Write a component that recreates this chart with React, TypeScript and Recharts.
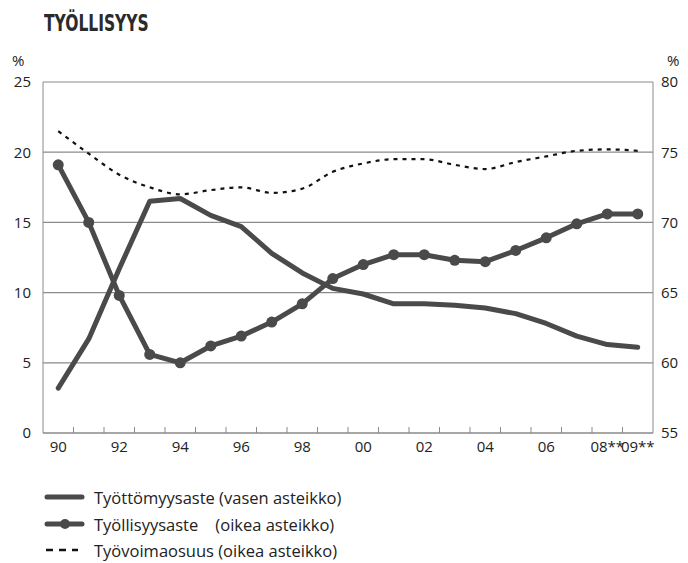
import React from 'react';
import { LineChart, Line, XAxis, YAxis, CartesianGrid } from 'recharts';

const years = ['90', '91', '92', '93', '94', '95', '96', '97', '98', '99', '00', '01', '02', '03', '04', '05', '06', '07', '08', '09'];
const yearLabels = ['90', '', '92', '', '94', '', '96', '', '98', '', '00', '', '02', '', '04', '', '06', '', '08**', '09**'];

// vasen asteikko
const tyottomyysaste = [3.2, 6.7, 11.7, 16.5, 16.7, 15.5, 14.7, 12.8, 11.4, 10.3, 9.9, 9.2, 9.2, 9.1, 8.9, 8.5, 7.8, 6.9, 6.3, 6.1];
// oikea asteikko
const tyollisyysaste = [74.1, 70.0, 64.8, 60.6, 60.0, 61.2, 61.9, 62.9, 64.2, 66.0, 67.0, 67.7, 67.7, 67.3, 67.2, 68.0, 68.9, 69.9, 70.6, 70.6];
const tyovoimaosuus = [76.5, 74.9, 73.4, 72.5, 72.0, 72.3, 72.5, 72.1, 72.4, 73.6, 74.2, 74.5, 74.5, 74.1, 73.8, 74.3, 74.7, 75.1, 75.2, 75.1];

const leftTicks = [0, 5, 10, 15, 20, 25];
const rightTicks = [55, 60, 65, 70, 75, 80];
const boundaryTicks = years.slice(1).map((_, i) => i + 0.5);
const labelTicks = [0, 2, 4, 6, 8, 10, 12, 14, 16, 18, 19];

const data = years.map((y, i) => ({
  i,
  year: y,
  tyottomyys: tyottomyysaste[i],
  tyollisyys: tyollisyysaste[i],
  tyovoima: tyovoimaosuus[i],
}));

const FONT = "'Open Sans', 'Noto Sans', sans-serif";
const DARK = '#4a4a4a';
const GRID = '#8a8a8a';
const tickStyle = { fill: '#222', fontSize: 15, fontFamily: FONT };

function LegendRow({ kind, label, top }: { kind: string; label: string; top: number }) {
  return (
    <div style={{ position: 'absolute', left: 44, top, height: 20, display: 'flex', alignItems: 'center' }}>
      <svg width={48} height={14}>
        {kind === 'line' && <line x1={3} y1={7} x2={38} y2={7} stroke={DARK} strokeWidth={5} strokeLinecap="round" />}
        {kind === 'dot' && (
          <g>
            <line x1={3} y1={7} x2={38} y2={7} stroke={DARK} strokeWidth={5} strokeLinecap="round" />
            <circle cx={21} cy={7} r={5} fill={DARK} />
          </g>
        )}
        {kind === 'dash' && <line x1={2} y1={7} x2={34} y2={7} stroke="#111" strokeWidth={2.5} strokeDasharray="7 6" />}
      </svg>
      <span style={{ fontFamily: FONT, fontSize: 16.5, color: '#222', whiteSpace: 'pre', marginLeft: 2 }}>{label}</span>
    </div>
  );
}

export default function App() {
  return (
    <div style={{ position: 'absolute', left: 0, top: 0, width: 688, height: 563, background: '#fff' }}>
      <div
        style={{
          position: 'absolute',
          left: 44,
          top: 10,
          fontFamily: "'DejaVu Sans Condensed', 'Liberation Sans Narrow', sans-serif",
          fontWeight: 'bold',
          fontSize: 23,
          lineHeight: 'normal',
          color: '#2a2a2a',
          transform: 'scaleX(0.75)',
          transformOrigin: 'left top',
          whiteSpace: 'nowrap',
        }}
      >
        TYÖLLISYYS
      </div>
      <div style={{ position: 'absolute', left: 12, top: 50, fontFamily: FONT, fontSize: 15, color: '#222' }}>%</div>
      <div style={{ position: 'absolute', left: 667, top: 50, fontFamily: FONT, fontSize: 15, color: '#222' }}>%</div>

      <LineChart width={688} height={470} data={data} margin={{ top: 82, right: 0, left: 13, bottom: 7 }}>
        <CartesianGrid xAxisId="m" yAxisId="left" vertical={false} stroke={GRID} strokeWidth={1.2} />
        <XAxis
          xAxisId="m"
          type="number"
          dataKey="i"
          domain={[-0.5, 19.5]}
          ticks={boundaryTicks}
          tickFormatter={() => ''}
          mirror
          tickSize={6}
          height={1}
          stroke={GRID}
          interval={0}
        />
        <XAxis
          xAxisId="l"
          type="number"
          dataKey="i"
          domain={[-0.5, 19.5]}
          ticks={labelTicks}
          tickFormatter={(v: number) => yearLabels[v]}
          axisLine={false}
          tickLine={false}
          tickSize={0}
          tickMargin={8}
          height={30}
          interval={0}
          tick={tickStyle}
        />
        <YAxis
          yAxisId="left"
          domain={[0, 25]}
          ticks={leftTicks}
          width={30}
          tickLine={false}
          tickMargin={6}
          stroke={GRID}
          tick={tickStyle}
          interval={0}
        />
        <YAxis
          yAxisId="right"
          orientation="right"
          domain={[55, 80]}
          ticks={rightTicks}
          width={35}
          tickLine={false}
          tickMargin={2}
          stroke={GRID}
          tick={tickStyle}
          interval={0}
        />
        <Line
          xAxisId="m"
          yAxisId="right"
          dataKey="tyovoima"
          type="monotone"
          stroke="#111"
          strokeWidth={2.2}
          strokeDasharray="4 5"
          dot={false}
          isAnimationActive={false}
        />
        <Line
          xAxisId="m"
          yAxisId="left"
          dataKey="tyottomyys"
          type="linear"
          stroke={DARK}
          strokeWidth={5}
          strokeLinejoin="round"
          strokeLinecap="round"
          dot={false}
          isAnimationActive={false}
        />
        <Line
          xAxisId="m"
          yAxisId="right"
          dataKey="tyollisyys"
          type="linear"
          stroke={DARK}
          strokeWidth={5}
          strokeLinejoin="round"
          dot={{ r: 5.5, fill: DARK, stroke: 'none' }}
          isAnimationActive={false}
        />
      </LineChart>

      <LegendRow kind="line" label="Työttömyysaste (vasen asteikko)" top={487} />
      <LegendRow kind="dot" label="Työllisyysaste    (oikea asteikko)" top={514} />
      <LegendRow kind="dash" label="Työvoimaosuus (oikea asteikko)" top={540} />
    </div>
  );
}
